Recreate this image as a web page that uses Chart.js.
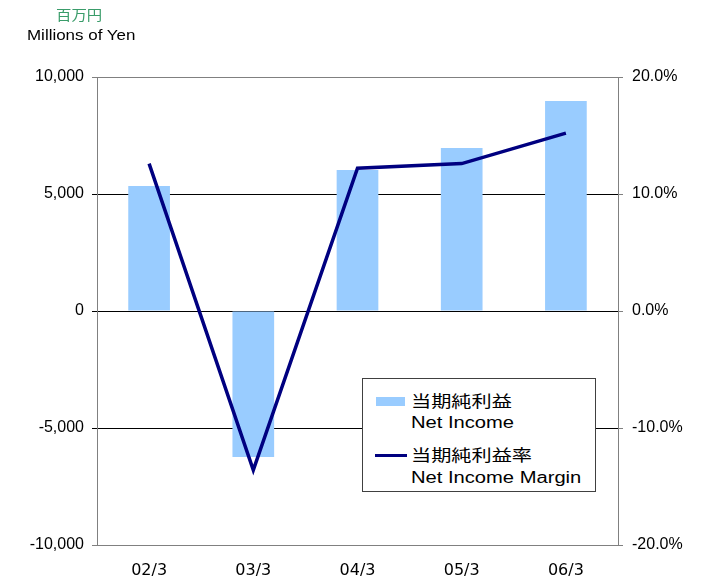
<!DOCTYPE html>
<html lang="ja">
<head>
    <meta charset="UTF-8">
    <title>Net Income</title>
    <style>
        body {
            margin: 0;
            background-color: #ffffff;
            font-family: "Liberation Sans", Arial, "Noto Sans CJK JP", sans-serif;
        }
        .wrap {
            position: relative;
            width: 702px;
            height: 579px;
        }
        .txt {
            position: absolute;
            white-space: nowrap;
            transform-origin: left top;
        }
        #legend {
            position: absolute;
            left: 362px;
            top: 378px;
            width: 232px;
            height: 112px;
            border: 1px solid #404040;
            background-color: #ffffff;
        }
        .lg {
            position: absolute;
            white-space: nowrap;
            font-size: 16px;
            line-height: 16px;
            color: #000000;
            transform: scaleX(1.26);
            transform-origin: left top;
        }
    </style>
    <script src="https://cdn.jsdelivr.net/npm/chart.js"></script>
</head>
<body>
    <div class="wrap">
        <canvas id="grafico" width="702" height="579"></canvas>

        <!-- unidade do eixo -->
        <div class="txt" style="left:56px; top:8px; font-size:14px; line-height:14px; color:#3a9c6a; transform:scaleX(1.1);">百万円</div>
        <div class="txt" style="left:27px; top:27px; font-size:15px; line-height:15px; color:#000; transform:scaleX(1.13);">Millions of Yen</div>

        <!-- legenda -->
        <div id="legend">
            <div id="swBar" style="position:absolute; left:13px; top:18px; width:29px; height:9px;"></div>
            <div class="lg" style="left:48px; top:15px;" id="lgBar1"></div>
            <div class="lg" style="left:48px; top:36px;" id="lgBar2"></div>
            <div id="swLine" style="position:absolute; left:12px; top:75px; width:32px; height:3px;"></div>
            <div class="lg" style="left:48px; top:69px;" id="lgLine1"></div>
            <div class="lg" style="left:48px; top:91px;" id="lgLine2"></div>
        </div>
    </div>

    <script>
        // dados
        const categorias = ['02/3', '03/3', '04/3', '05/3', '06/3'];
        const lucroLiquido = [5340, -6240, 6030, 6970, 8970];      // 百万円
        const margemLiquida = [12.6, -13.6, 12.2, 12.6, 15.2];    // %
        const ticksEsquerda = [-10000, -5000, 0, 5000, 10000];
        const ticksDireita = [-20, -10, 0, 10, 20];

        const rotuloBarra = ['当期純利益', 'Net Income'];
        const rotuloLinha = ['当期純利益率', 'Net Income Margin'];

        const corBarra = '#99ccff';
        const corLinha = '#000080';

        // legenda em HTML
        document.getElementById('swBar').style.background = corBarra;
        document.getElementById('swLine').style.background = corLinha;
        document.getElementById('lgBar1').textContent = rotuloBarra[0];
        document.getElementById('lgBar2').textContent = rotuloBarra[1];
        document.getElementById('lgLine1').textContent = rotuloLinha[0];
        document.getElementById('lgLine2').textContent = rotuloLinha[1];

        const fonteEixo = { family: '"Liberation Sans", Arial, sans-serif', size: 16 };
        const fonteCategoria = { family: '"DejaVu Sans", sans-serif', size: 16 };

        const ctx = document.getElementById('grafico').getContext('2d');
        const grafico = new Chart(ctx, {
            data: {
                labels: categorias,
                datasets: [{
                    type: 'line',
                    label: rotuloLinha.join(' '),
                    data: margemLiquida,
                    yAxisID: 'y1',
                    borderColor: corLinha,
                    borderWidth: 3.5,
                    pointRadius: 0,
                    tension: 0,
                    order: 1
                }, {
                    type: 'bar',
                    label: rotuloBarra.join(' '),
                    data: lucroLiquido,
                    yAxisID: 'y',
                    backgroundColor: corBarra,
                    borderWidth: 0,
                    barPercentage: 0.4,
                    categoryPercentage: 1.0,
                    order: 2
                }]
            },
            options: {
                responsive: false,
                animation: false,
                layout: { padding: { top: 77, left: 0, right: 0, bottom: 0 } },
                plugins: {
                    legend: { display: false },
                    tooltip: { enabled: false }
                },
                scales: {
                    x: {
                        afterFit: function (s) { s.height = 34; },
                        grid: { display: true, drawOnChartArea: false, drawTicks: false, offset: true },
                        border: { color: '#808080', width: 1 },
                        ticks: { color: '#000', font: fonteCategoria, padding: 16, maxRotation: 0 }
                    },
                    y: {
                        position: 'left',
                        min: ticksEsquerda[0],
                        max: ticksEsquerda[ticksEsquerda.length - 1],
                        afterFit: function (s) { s.width = 97; },
                        afterBuildTicks: function (s) { s.ticks = ticksEsquerda.map(v => ({ value: v })); },
                        grid: {
                            color: c => (c.tick && Math.abs(c.tick.value) === 10000) ? '#808080' : '#000000',
                            lineWidth: 1,
                            tickLength: 5
                        },
                        border: { color: '#808080', width: 1 },
                        ticks: {
                            color: '#000',
                            font: fonteEixo,
                            padding: 8,
                            callback: v => v.toLocaleString('en-US')
                        }
                    },
                    y1: {
                        position: 'right',
                        min: ticksDireita[0],
                        max: ticksDireita[ticksDireita.length - 1],
                        afterFit: function (s) { s.width = 84; },
                        afterBuildTicks: function (s) { s.ticks = ticksDireita.map(v => ({ value: v })); },
                        grid: { drawOnChartArea: false, color: '#808080', tickLength: 5 },
                        border: { color: '#808080', width: 1 },
                        ticks: {
                            color: '#000',
                            font: fonteEixo,
                            padding: 9,
                            callback: v => v.toFixed(1) + '%'
                        }
                    }
                }
            }
        });
    </script>
</body>
</html>
